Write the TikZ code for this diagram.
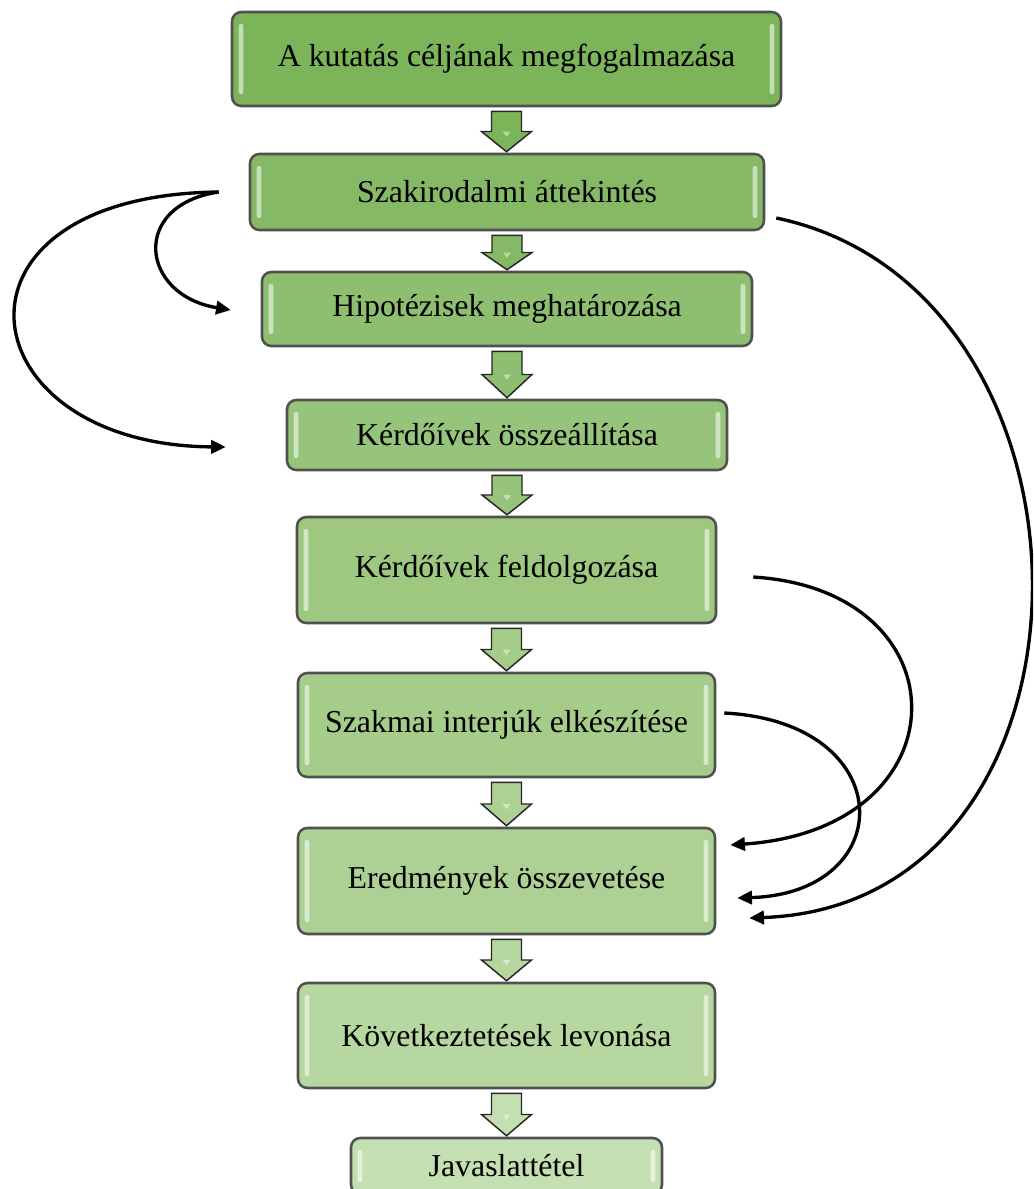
\documentclass[tikz,border=0pt]{standalone}
\usepackage{fontspec}
\setmainfont{Liberation Serif}
\usetikzlibrary{calc,arrows.meta}
\definecolor{c1}{RGB}{124,180,90}
\definecolor{c2}{RGB}{133,185,101}
\definecolor{c3}{RGB}{142,191,112}
\definecolor{c4}{RGB}{151,196,123}
\definecolor{c5}{RGB}{158,199,128}
\definecolor{c6}{RGB}{166,204,138}
\definecolor{c7}{RGB}{173,209,148}
\definecolor{c8}{RGB}{182,215,160}
\definecolor{c9}{RGB}{196,224,178}
\definecolor{boxline}{RGB}{80,80,80}
\tikzset{
  box/.style={draw=boxline, line width=1.9pt, rounded corners=7pt,
    font=\fontsize{23.9}{28}\selectfont, inner sep=0pt,
    path picture={
      \fill[white, opacity=0.55, rounded corners=1.5pt]
        ([xshift=5pt,yshift=-9pt]path picture bounding box.north west) rectangle
        ([xshift=8.5pt,yshift=9pt]path picture bounding box.south west);
      \fill[white, opacity=0.55, rounded corners=1.5pt]
        ([xshift=-5pt,yshift=-9pt]path picture bounding box.north east) rectangle
        ([xshift=-8.5pt,yshift=9pt]path picture bounding box.south east);
    }},
  blk/.style={draw=black!85, line width=1.1pt, line join=miter},
  link/.style={draw=black, line width=2.5pt, -{Triangle[length=11pt,width=10pt]}},
}
\newcommand\blockarrow[3]{%
  \draw[blk, fill=#3] let \p1=($(#1.south)+(0,4)$), \p2=($(#2.north)+(0,-1)$),
      \p3=($(\p1)!0.5!(\p2)$) in
    (\x1-11.25pt,\y1) -- (\x1+11.25pt,\y1) -- (\x1+11.25pt,\y3) -- (\x1+18.75pt,\y3)
    -- (\x1,\y2) -- (\x1-18.75pt,\y3) -- (\x1-11.25pt,\y3) -- cycle;
  \fill[white, opacity=0.45] let \p1=($(#1.south)+(0,4)$), \p2=($(#2.north)+(0,-1)$),
      \p3=($(\p1)!0.5!(\p2)$) in
    (\x1-3pt,\y3) -- (\x1+3pt,\y3) -- (\x1,\y3-4pt) -- cycle;
}
\begin{document}
\begin{tikzpicture}[x=0.75pt, y=-0.75pt]
\useasboundingbox (0,0) rectangle (1033,1189);
\clip (0,0) rectangle (1033,1189);

\node[box, fill=c1, minimum width=411.75pt, minimum height=70.5pt] (b1) at (506.5,59) {A kutatás céljának megfogalmazása};
\node[box, fill=c2, minimum width=385.5pt, minimum height=57pt] (b2) at (507,192) {Szakirodalmi áttekintés};
\node[box, fill=c3, minimum width=367.5pt, minimum height=55.5pt] (b3) at (507,309) {Hipotézisek meghatározása};
\node[box, fill=c4, minimum width=330pt, minimum height=52.5pt] (b4) at (507,435) {Kérdőívek összeállítása};
\node[box, fill=c5, minimum width=314.25pt, minimum height=79.5pt] (b5) at (506.5,570) {Kérdőívek feldolgozása};
\node[box, fill=c6, minimum width=312.75pt, minimum height=78pt] (b6) at (506.5,725) {Szakmai interjúk elkészítése};
\node[box, fill=c7, minimum width=312.75pt, minimum height=79.5pt] (b7) at (506.5,881) {Eredmények összevetése};
\node[box, fill=c8, minimum width=312.75pt, minimum height=78.75pt] (b8) at (506.5,1035.5) {Következtetések levonása};
\node[box, fill=c9, minimum width=233.25pt, minimum height=42pt] (b9) at (506.5,1166) {Javaslattétel};

\blockarrow{b1}{b2}{c1}
\blockarrow{b2}{b3}{c2}
\blockarrow{b3}{b4}{c3}
\blockarrow{b4}{b5}{c4}
\blockarrow{b5}{b6}{c6}
\blockarrow{b6}{b7}{c7}
\blockarrow{b7}{b8}{c8}
\blockarrow{b8}{b9}{c9}

% free ends of the curved connectors
\coordinate (s1) at ($(b2.west)+(-30,0)$);
\coordinate (t3) at ($(b3.west)+(-30,1)$);
\coordinate (t4) at ($(b4.west)+(-60,12)$);
\coordinate (s2) at ($(b2.east)+(11,26)$);
\coordinate (s5) at ($(b5.east)+(36,7)$);
\coordinate (s6) at ($(b6.east)+(8,-12)$);
\coordinate (t7a) at ($(b7.east)+(14,-36)$);
\coordinate (t7b) at ($(b7.east)+(21,17)$);
\coordinate (t7c) at ($(b7.east)+(33,37)$);

\draw[link] (s1) .. controls (130,205) and (140,295) .. (t3);
\draw[link] (s1) .. controls (-70,195) and (-36,445) .. (t4);
\draw[link] (s2) .. controls (1120,290) and (1120,905) .. (t7c);
\draw[link] (s5) .. controls (966,590) and (966,829) .. (t7a);
\draw[link] (s6) .. controls (900,722) and (900,893) .. (t7b);
\end{tikzpicture}
\end{document}
